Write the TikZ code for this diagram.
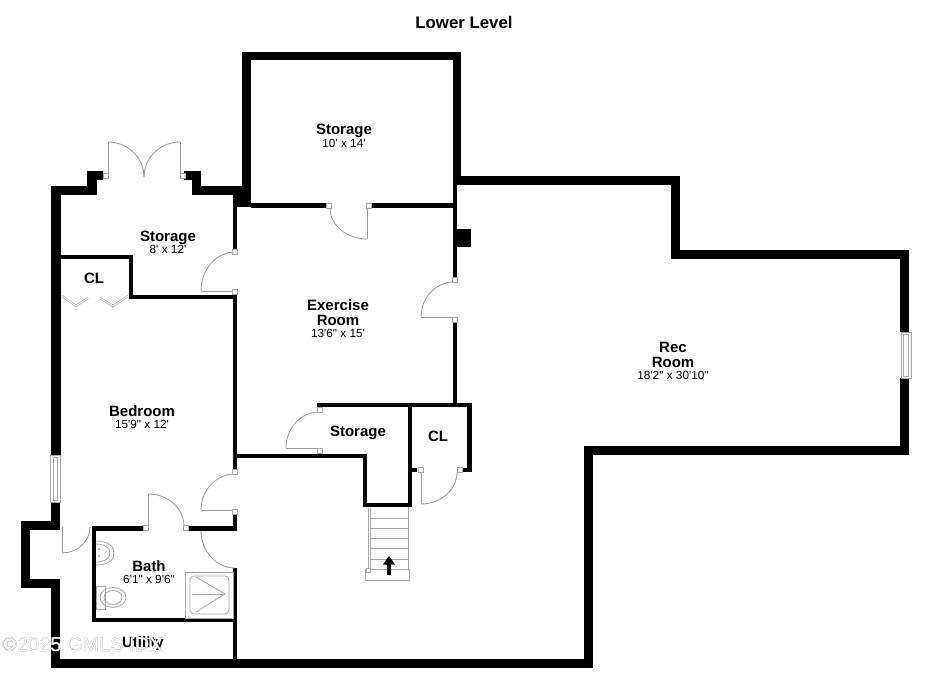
\documentclass[tikz,border=0pt]{standalone}
\usepackage{fontspec}
\setmainfont{Liberation Sans}
\newfontfamily\wmstroke[FakeBold=0.8]{Liberation Sans}
\newfontfamily\dimfont{Liberation Sans}
\usetikzlibrary{calc}
\definecolor{doorgray}{gray}{0.6}
\definecolor{fixgray}{gray}{0.65}
\tikzset{
  wallfill/.style={fill=black,draw=none},
  doorline/.style={draw=doorgray,line width=0.8pt},
  fixture/.style={draw=fixgray,line width=0.8pt},
  jamb/.style={draw=fixgray,fill=white,line width=0.6pt},
  roomname/.style={font=\fontsize{15}{16}\selectfont\bfseries,inner sep=0pt,align=center},
  roomsize/.style={font=\dimfont\fontsize{11.8}{13}\selectfont,inner sep=0pt},
  winframe/.style={draw=fixgray,fill=white,line width=0.7pt},
}
\newcommand{\wl}[4]{\fill[wallfill] (#1,#2) rectangle (#3,#4);}
% swing arc from (#1) to (#2) with corner (#3)
\newcommand{\swing}[3]{\draw[doorline] (#1) .. controls ($(#1)!.55!(#3)$) and ($(#2)!.55!(#3)$) .. (#2);}
\newcommand{\jam}[2]{\draw[jamb] (#1-2.5,#2-2.5) rectangle (#1+2.5,#2+2.5);}
\begin{document}
\begin{tikzpicture}[x=1pt,y=-1pt]
\useasboundingbox (0,0) rectangle (930,676);
\fill[white] (0,0) rectangle (930,676);

% ---- walls: upper storage
\wl{242}{52}{251}{207}
\wl{242}{52}{461}{60}
\wl{453}{52}{461}{185}
\wl{453}{176}{680}{185}
\wl{671}{176}{680}{259}
\wl{671}{250}{909}{259}
\wl{900}{250}{909}{332}
\wl{900}{378}{909}{455}
\wl{584}{446}{909}{455}
\wl{584}{446}{593}{668}
\wl{51}{659}{593}{668}
% left outer
\wl{51}{186}{61}{455}
\wl{51}{502}{60}{530}
\wl{21}{521}{60}{530}
\wl{21}{521}{30}{588}
\wl{21}{579}{60}{588}
\wl{51}{579}{60}{668}
% left storage top with steps
\wl{51}{186}{97}{195}
\wl{87}{171}{97}{195}
\wl{87}{171}{103}{180}
\wl{184}{171}{201}{180}
\wl{192}{171}{201}{195}
\wl{192}{186}{242}{195}
\wl{233}{195}{251}{207}
\wl{233}{207}{237}{250}
% closet
\wl{61}{255}{133}{259}
\wl{129}{255}{133}{299}
\wl{129}{295}{237}{299}
% bedroom / exercise partition
\wl{233}{295}{237}{470}
\wl{233}{512}{237}{531}
\wl{233}{568}{237}{660}
% exercise top partition
\wl{251}{203}{326}{208}
\wl{372}{203}{453}{208}
% exercise right
\wl{453}{185}{457}{277}
\wl{457}{229}{471}{247}
\wl{453}{323}{457}{405}
% storage + CL
\wl{317}{403}{472}{407}
\wl{467}{403}{472}{472}
\wl{460}{468}{472}{472}
\wl{408}{403}{412}{507}
\wl{412}{468}{417}{472}
\wl{363}{503}{412}{507}
\wl{363}{454}{367}{507}
\wl{237}{454}{367}{458}
% bath
\wl{92}{526}{96}{622}
\wl{92}{526}{143}{531}
\wl{188}{526}{237}{531}
\wl{92}{618}{233}{622}

% ---- doors
% double door
\draw[doorline] (108,173) -- (108,142);
\draw[doorline] (180,173) -- (180,142);
\swing{108,142}{144,177}{144,142}
\swing{180,142}{144,177}{144,142}
\jam{105.5}{175.5}\jam{182.5}{175.5}
% left storage door
\draw[doorline] (233,291) -- (201,291);
\swing{235,252}{201,291}{201,252}
\jam{235}{252}\jam{235}{292}
% exercise top door
\draw[doorline] (367,208) -- (367,239);
\swing{330,208}{367,239}{330,239}
\jam{329}{205.5}\jam{369}{205.5}
% exercise right door
\draw[doorline] (453,317) -- (421,317);
\swing{454,282}{421,317}{421,282}
\jam{455}{280}\jam{455}{320}
% storage door
\draw[doorline] (318,448) -- (286,448);
\swing{319,412}{286,448}{286,412}
\jam{320}{410}\jam{320}{451}
% CL door
\draw[doorline] (421,472) -- (421,504);
\swing{457,472}{421,504}{457,504}
\jam{420.5}{470}\jam{460}{470}
% bedroom doors
\draw[doorline] (233,510) -- (201,510);
\swing{235,474}{201,510}{201,474}
\jam{235}{472}\jam{235}{512}
\swing{201,531}{235,568}{201,568}
% bath door
\draw[doorline] (148,526) -- (148,494);
\swing{148,494}{184,526}{184,494}
\jam{146}{528}\jam{186}{528}
% outer side door
\draw[doorline] (62,527) -- (62,553);
\swing{62,553}{90,527}{90,553}

% ---- closet bifold
\draw[draw=fixgray,line width=2.2pt] (62,296) -- (76,306) -- (88,298);
\draw[draw=white,line width=0.9pt] (62,296) -- (76,306) -- (88,298);
\draw[draw=fixgray,line width=2.2pt] (100,298) -- (113,306) -- (128,296);
\draw[draw=white,line width=0.9pt] (100,298) -- (113,306) -- (128,296);

% ---- windows
\draw[winframe] (50.5,455) rectangle (60.5,502);
\draw[fixture,line width=0.5pt] (53,457) rectangle (57.5,500);
\draw[winframe] (901,332) rectangle (911,378);
\draw[fixture,line width=0.5pt] (903.5,334) rectangle (908,376);

% ---- stairs
\draw[fixture] (368,508) -- (368,569);
\draw[fixture] (370,508) -- (370,569);
\draw[fixture] (408,507) -- (408,569);
\foreach \yy in {518,528,538,548,559,569} {\draw[fixture] (370,\yy) -- (408,\yy);}
\draw[fixture] (365,569) rectangle (409,580);
\draw[jamb] (366,568) rectangle (370,572);
\draw[black,line width=4pt] (389,575) -- (389,562);
\fill[black] (383,564.5) -- (389,556) -- (395,564.5) -- cycle;

% ---- bath fixtures
\draw[fixture] (96,541) .. controls (108,541) and (114,546) .. (114,553) .. controls (114,560) and (108,565) .. (96,565);
\draw[fixture] (96,544) .. controls (105,544) and (110,548) .. (110,553) .. controls (110,558) and (105,562) .. (96,562);
\fill[fixgray!70!black] (99,549) circle (0.9) (99,556) circle (0.9) (106,552) circle (0.6);
\draw[fixture] (96,586) rectangle (105,609);
\draw[fixture] (113,597.5) ellipse (13 and 10);
\draw[fixture] (113,597.5) ellipse (9 and 7);
\draw[fixture] (185,572) rectangle (233,618);
\draw[fixture,rounded corners=4pt] (190,576) rectangle (229,614);
\draw[fixture] (196,577) -- (225,594) -- (196,612);
\draw[fixture] (192,594) -- (225,594);

% ---- labels
\node[font=\fontsize{16.8}{18}\selectfont\bfseries,inner sep=0pt] (title) at (464,22) {Lower Level};
\node[roomname] (st1) at (344,130.5) {Storage};
\node[roomsize] (st1s) at (344,143) {10' x 14'};
\node[roomname] (st2) at (168,237.5) {Storage};
\node[roomsize] (st2s) at (168,249) {8' x 12'};
\node[roomname] (cl1) at (94,278) {CL};
\node[roomname] (ex) at (338,312.5) {Exercise\\[-1pt]Room};
\node[roomsize] (exs) at (338,333) {13'6" x 15'};
\node[roomname] (rec) at (673,355) {Rec\\[-1pt]Room};
\node[roomsize] (recs) at (673,375) {18'2" x 30'10"};
\node[roomname] (bed) at (142,411) {Bedroom};
\node[roomsize] (beds) at (142,424) {15'9" x 12'};
\node[roomname] (st3) at (358,432.5) {Storage};
\node[roomname] (cl2) at (438,436) {CL};
\node[roomname] (bath) at (149,566) {Bath};
\node[roomsize] (baths) at (149,579) {6'1" x 9'6"};
\node[roomname] (util) at (143,644) {Utility};

% ---- watermark, outlined
\node[anchor=base west,inner sep=0pt,text=doorgray,font=\wmstroke\fontsize{20}{20}\selectfont] (wmo) at (2,651) {©2025 GMLS IDX};
\node[anchor=base west,inner sep=0pt,text=white,font=\fontsize{20}{20}\selectfont] (wmi) at (2,651) {©2025 GMLS IDX};
\end{tikzpicture}
\end{document}
